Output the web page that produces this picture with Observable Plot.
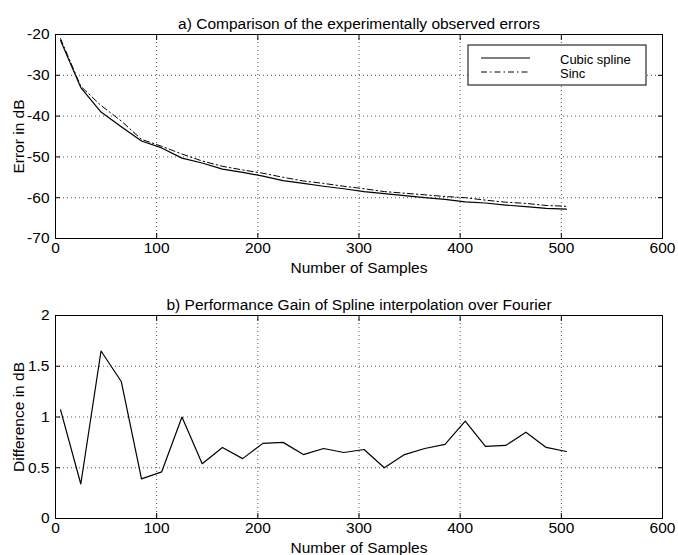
<!DOCTYPE html>
<html><head><meta charset="utf-8">
<script src="https://cdn.jsdelivr.net/npm/d3@7"></script>
<script src="https://cdn.jsdelivr.net/npm/@observablehq/plot@0.6"></script>
<style>body{margin:0;background:#fff} #chart{width:678px} #chart svg{display:block}</style>
</head><body><div id="chart"></div>
<script>
const samples = [5,25,45,65,85,105,125,145,165,185,205,225,245,265,285,305,325,345,365,385,405,425,445,465,485,505];
const cubicSpline = [-21.5,-33,-39,-42.6,-46.1,-47.8,-50.3,-51.5,-53,-53.8,-54.7,-55.8,-56.5,-57.2,-57.8,-58.5,-59,-59.5,-60,-60.4,-61,-61.3,-61.8,-62.2,-62.6,-62.8];
const sinc = [-21,-32.7,-37.4,-41.2,-45.7,-47.4,-49.3,-51,-52.3,-53.2,-54,-55,-55.9,-56.5,-57.2,-57.8,-58.5,-58.9,-59.3,-59.7,-60,-60.6,-61.1,-61.4,-61.9,-62.1];
const gain = [1.07,0.34,1.65,1.35,0.39,0.46,1.0,0.54,0.70,0.59,0.74,0.75,0.63,0.69,0.65,0.68,0.50,0.63,0.69,0.73,0.96,0.71,0.72,0.85,0.70,0.66];
const xTicks = [0,100,200,300,400,500,600];
const yTicksTop = [-70,-60,-50,-40,-30,-20];
const yTicksBottom = [0,0.5,1,1.5,2];
const seriesNames = ["Cubic spline","Sinc"];
const titleTop = "a) Comparison of the experimentally observed errors";
const titleBottom = "b) Performance Gain of Spline interpolation over Fourier";
const xLabel = "Number of Samples";
const yLabelTop = "Error in dB";
const yLabelBottom = "Difference in dB";

const font = "'Liberation Sans', Arial, Helvetica, sans-serif";
const fmt = d => String(d);
const grid = {stroke: "black", strokeOpacity: 0.85, strokeDasharray: "1,3", strokeWidth: 0.8};
const fs = 15.5;

function panel({height, marginTop, marginBottom, yDomain, yTicks, yLabel, title, marks}) {
  return Plot.plot({
    width: 678, height, marginLeft: 55, marginRight: 16, marginTop, marginBottom,
    style: {fontFamily: font, fontSize: fs + "px", color: "black", background: "white", overflow: "visible"},
    x: {domain: [0, 600]},
    y: {domain: yDomain},
    marks: [
      Plot.gridX(xTicks, grid),
      Plot.gridY(yTicks, grid),
      ...marks,
      Plot.frame({stroke: "black", strokeWidth: 1}),
      Plot.axisX(xTicks, {anchor: "bottom", tickSize: -5, tickFormat: () => "", label: null}),
      Plot.axisX(xTicks, {anchor: "top", tickSize: -5, tickFormat: () => "", label: null}),
      Plot.axisX(xTicks, {anchor: "bottom", tickSize: 0, tickPadding: 3, tickFormat: fmt, fontSize: fs, label: xLabel, labelAnchor: "center", labelArrow: "none", labelOffset: 34}),
      Plot.axisY(yTicks, {anchor: "left", tickSize: -5, tickFormat: () => "", label: null}),
      Plot.axisY(yTicks, {anchor: "right", tickSize: -5, tickFormat: () => "", label: null}),
      Plot.axisY(yTicks, {anchor: "left", tickSize: 0, tickPadding: 6, tickFormat: fmt, fontSize: fs, label: yLabel, labelAnchor: "center", labelArrow: "none", labelOffset: 43}),
      Plot.text([title], {frameAnchor: "top", dy: -17, fontSize: fs})
    ]
  });
}

const topPanel = panel({
  height: 277, marginTop: 34, marginBottom: 39,
  yDomain: [-70, -20], yTicks: yTicksTop, yLabel: yLabelTop, title: titleTop,
  marks: [
    Plot.line(samples, {x: d => d, y: (d, i) => cubicSpline[i], stroke: "black", strokeWidth: 1.2}),
    Plot.line(samples, {x: d => d, y: (d, i) => sinc[i], stroke: "black", strokeWidth: 1, strokeDasharray: "6,3,1.5,3"})
  ]
});

// legend box
{
  const svg = d3.select(topPanel);
  const g = svg.append("g").attr("font-family", font).attr("font-size", 13).attr("text-anchor", "start");
  g.append("rect").attr("x", 468).attr("y", 45).attr("width", 178).attr("height", 40)
    .attr("fill", "white").attr("stroke", "black").attr("stroke-width", 1);
  const dashes = [null, "6,3,1.5,3"];
  seriesNames.forEach((name, i) => {
    const y = 58 + i * 14;
    g.append("line").attr("x1", 481).attr("x2", 530).attr("y1", y).attr("y2", y)
      .attr("stroke", "black").attr("stroke-width", i ? 1 : 1.2).attr("stroke-dasharray", dashes[i]);
    g.append("text").attr("x", 560).attr("y", y + 1).attr("dy", "0.35em").attr("fill", "black").text(name);
  });
}

const bottomPanel = panel({
  height: 278, marginTop: 38, marginBottom: 37,
  yDomain: [0, 2], yTicks: yTicksBottom, yLabel: yLabelBottom, title: titleBottom,
  marks: [
    Plot.line(samples, {x: d => d, y: (d, i) => gain[i], stroke: "black", strokeWidth: 1.2})
  ]
});

document.getElementById("chart").append(topPanel, bottomPanel);
</script>
</body></html>
